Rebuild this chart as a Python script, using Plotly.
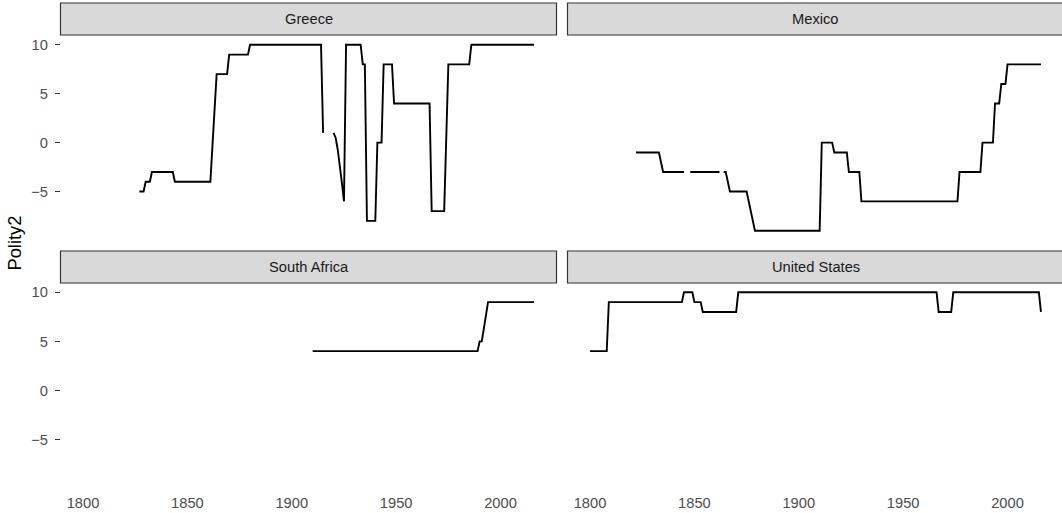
import plotly.graph_objects as go

W, H = 1062, 513

# ---------------- data (vertices of each country's Polity2 line; None = gap) ----
greece_years = [1827, 1829, 1830, 1832, 1833, 1843, 1844, 1861, 1862, 1863, 1864, 1869,
                1870, 1879, 1880, 1914, 1915, 1917, 1920, 1921, 1922, 1923, 1924, 1925,
                1926, 1933, 1934, 1935, 1936, 1940, 1941, 1943, 1944, 1948, 1949, 1966,
                1967, 1973, 1974, 1975, 1985, 1986, 2016]
greece_polity2 = [-5, -5, -4, -4, -3, -3, -4, -4, -0.3, 3.3, 7, 7,
                  9, 9, 10, 10, 1, None, 1, 0.5, -0.7, -2.2, -4.1, -6,
                  10, 10, 8, 8, -8, -8, 0, 0, 8, 8, 4, 4,
                  -7, -7, 0.5, 8, 8, 10, 10]

mexico_years = [1822, 1833, 1834, 1835, 1845, 1846, 1848, 1862, 1863, 1864, 1865, 1866,
                1867, 1875, 1876, 1877, 1878, 1879, 1910, 1911, 1916, 1917, 1923, 1924,
                1929, 1930, 1976, 1977, 1987, 1988, 1993, 1994, 1996, 1997, 1999, 2000,
                2016]
mexico_polity2 = [-1, -1, -2, -3, -3, None, -3, -3, None, -3, -3, -4,
                  -5, -5, -6, -7, -8, -9, -9, 0, 0, -1, -1, -3,
                  -3, -6, -6, -3, -3, 0, 0, 4, 4, 6, 6, 8,
                  8]

south_africa_years = [1910, 1989, 1990, 1991, 1992, 1993, 1994, 2016]
south_africa_polity2 = [4, 4, 5, 5, 6.3, 7.7, 9, 9]

united_states_years = [1800, 1808, 1809, 1844, 1845, 1849, 1850, 1853, 1854, 1870, 1871,
                       1966, 1967, 1973, 1974, 2015, 2016]
united_states_polity2 = [4, 4, 9, 9, 10, 10, 9, 9, 8, 8, 10,
                         10, 8, 8, 10, 10, 8]

countries = ["Greece", "Mexico", "South Africa", "United States"]
series = {
    "Greece": (greece_years, greece_polity2),
    "Mexico": (mexico_years, mexico_polity2),
    "South Africa": (south_africa_years, south_africa_polity2),
    "United States": (united_states_years, united_states_polity2),
}

x_tickvals = [1800, 1850, 1900, 1950, 2000]
y_tickvals = [-5, 0, 5, 10]
y_ticktext = ["\u22125", "0", "5", "10"]
x_min = 1789.2
px_per_year = 2.0875
y_range = [-9.95, 10.95]

# ---------------- layout geometry (pixels) ----------------
col_px = [(60.5, 556.5), (567.5, 1063.5)]   # right panel runs past the image edge
row_px = [(35.5, 240.0), (283.0, 488.0)]
strip_px = [(3.0, 35.0), (251.0, 283.0)]


def fx(p):
    return p / W


def fy(p):
    return 1 - p / H


FONT = "Liberation Sans, Arial, sans-serif"
TICK_SIZE = 14.7
STRIP_SIZE = 14.7
TITLE_SIZE = 18.3

fig = go.Figure()
layout = dict(
    width=W, height=H,
    margin=dict(l=0, r=0, t=0, b=0, pad=0, autoexpand=False),
    paper_bgcolor="white", plot_bgcolor="white",
    showlegend=False,
    font=dict(family=FONT, color="#4D4D4D"),
)

shapes = []
annotations = []
for i, country in enumerate(countries):
    r, c = divmod(i, 2)
    n = i + 1
    xa = "xaxis" if n == 1 else f"xaxis{n}"
    ya = "yaxis" if n == 1 else f"yaxis{n}"
    xr = "x" if n == 1 else f"x{n}"
    yr = "y" if n == 1 else f"y{n}"
    x0, x1 = col_px[c]
    x1v = min(x1, W)
    y0, y1 = row_px[r]
    layout[xa] = dict(
        domain=[fx(x0), fx(x1v)],
        range=[x_min, x_min + (x1v - x0) / px_per_year], anchor=yr,
        showgrid=False, zeroline=False, showline=False,
        tickvals=x_tickvals, ticks="", showticklabels=(r == 1),
        tickfont=dict(family=FONT, size=TICK_SIZE, color="#4D4D4D"),
        ticklabelstandoff=4,
    )
    layout[ya] = dict(
        domain=[fy(y1), fy(y0)], range=y_range, anchor=xr,
        showgrid=False, zeroline=False, showline=False,
        tickvals=y_tickvals, ticktext=y_ticktext,
        ticks="outside" if c == 0 else "", ticklen=4.6, tickwidth=1.2, tickcolor="#333333",
        showticklabels=(c == 0),
        tickfont=dict(family=FONT, size=TICK_SIZE, color="#4D4D4D"),
        ticklabelstandoff=4,
    )
    xs, ys = series[country]
    fig.add_trace(go.Scatter(
        x=xs, y=ys, mode="lines", xaxis=xr, yaxis=yr,
        line=dict(color="black", width=1.9), connectgaps=False,
        hoverinfo="skip",
    ))
    sy0, sy1 = strip_px[r]
    shapes.append(dict(
        type="rect", xref="paper", yref="paper",
        x0=fx(x0), x1=fx(x1), y0=fy(sy1), y1=fy(sy0),
        fillcolor="#D9D9D9", line=dict(color="#333333", width=1.2), layer="below",
    ))
    annotations.append(dict(
        text=country, xref="paper", yref="paper",
        x=fx((x0 + x1) / 2), y=fy((sy0 + sy1) / 2),
        xanchor="center", yanchor="middle", showarrow=False,
        font=dict(family=FONT, size=STRIP_SIZE, color="#1A1A1A"),
    ))

annotations.append(dict(
    text="Polity2", xref="paper", yref="paper",
    x=fx(14.5), y=fy(243), xanchor="center", yanchor="middle",
    textangle=-90, showarrow=False,
    font=dict(family=FONT, size=TITLE_SIZE, color="black"),
))

layout["shapes"] = shapes
layout["annotations"] = annotations
fig.update_layout(**layout)
fig.write_html("out.html", config={"displayModeBar": False},
               post_script="document.body.style.margin='0px';")
